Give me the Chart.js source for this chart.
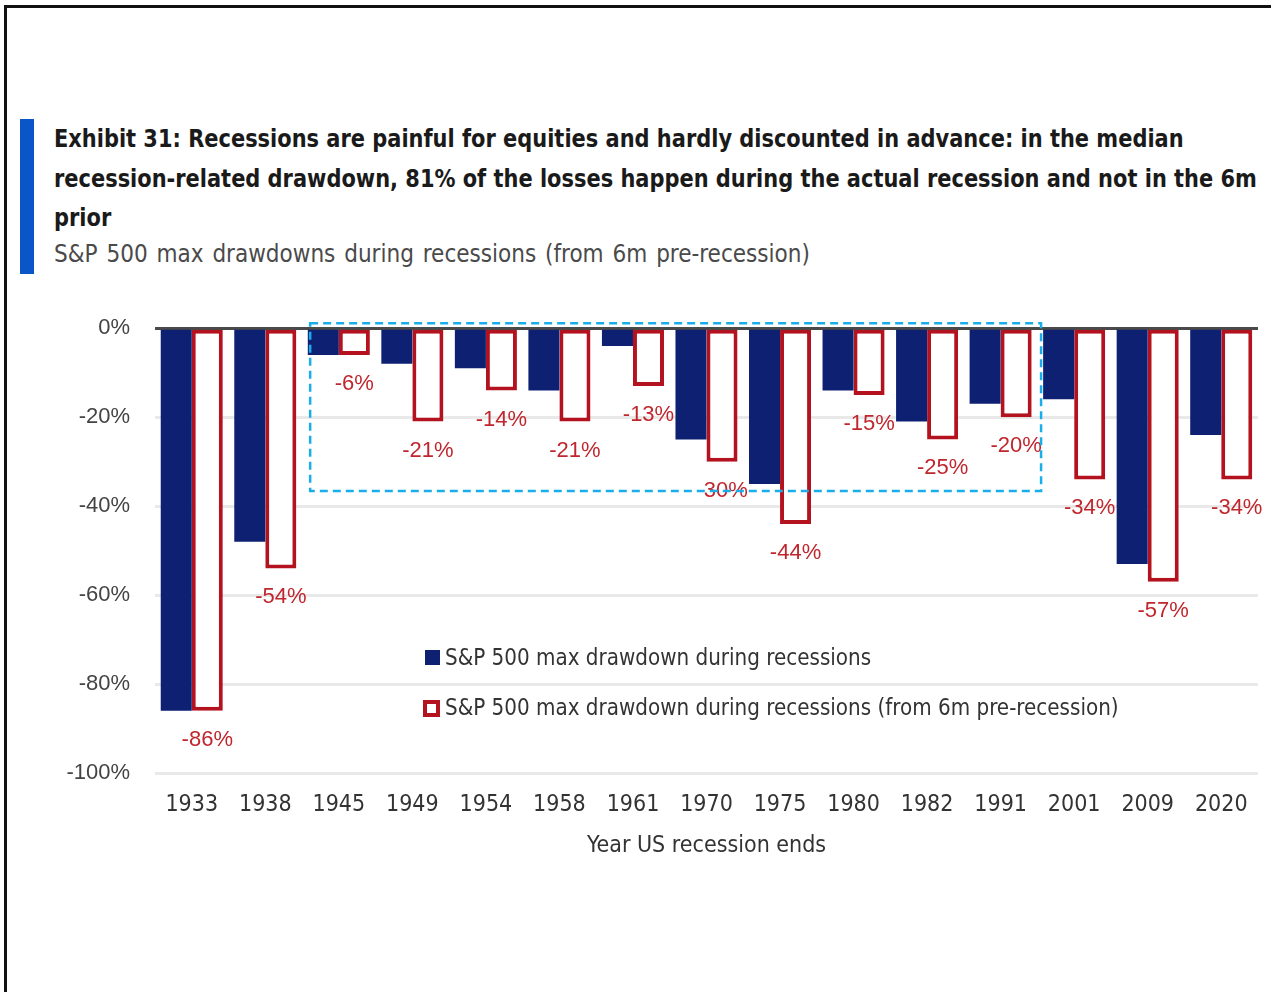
<!DOCTYPE html>
<html>
<head>
<meta charset="utf-8">
<script src="https://cdn.jsdelivr.net/npm/chart.js@4.4.1/dist/chart.umd.min.js"></script>
<style>
  html, body { margin:0; padding:0; background:#fff; }
  body { width:1271px; height:992px; overflow:hidden; position:relative; }
  #frame { position:absolute; left:4px; top:5px; width:1300px; height:1100px; border:3px solid #111; box-sizing:border-box; }
  #accent { position:absolute; left:20px; top:119px; width:14px; height:155px; background:#0a55c8; }
  #title { position:absolute; left:54px; top:120px; font-family:"DejaVu Sans Condensed","DejaVu Sans",sans-serif; font-weight:bold; font-size:24px; line-height:39.5px; color:#1a1a1a; white-space:nowrap; transform:scaleX(0.97); transform-origin:0 0; }
  #subtitle { position:absolute; left:54px; top:237px; font-family:"DejaVu Sans Condensed","DejaVu Sans",sans-serif; font-size:24px; line-height:34px; color:#4a4a4a; white-space:nowrap; word-spacing:2px; }
  #chartbox { position:absolute; left:0; top:290px; width:1271px; height:590px; }
  .leg { position:absolute; font-family:"DejaVu Sans Condensed","DejaVu Sans",sans-serif; font-size:22.2px; color:#333; white-space:nowrap; line-height:30px; }
  .mk { position:absolute; box-sizing:border-box; }
</style>
</head>
<body>
<div id="frame"></div>
<div id="accent"></div>
<div id="title">Exhibit 31: Recessions are painful for equities and hardly discounted in advance: in the median<br>recession-related drawdown, 81% of the losses happen during the actual recession and not in the 6m<br>prior</div>
<div id="subtitle">S&amp;P 500 max drawdowns during recessions (from 6m pre-recession)</div>
<div id="chartbox"><canvas id="c"></canvas></div>
<div class="mk" style="left:425px;top:650px;width:15px;height:15px;background:#0d2072;"></div>
<div class="leg" id="leg1" style="left:445px;top:642px;">S&amp;P 500 max drawdown during recessions</div>
<div class="mk" style="left:423px;top:700px;width:17px;height:17px;background:#fff;border:4px solid #b3121e;"></div>
<div class="leg" id="leg2" style="left:445px;top:692px;">S&amp;P 500 max drawdown during recessions (from 6m pre-recession)</div>
<script>
// ---- data ----
const years = ['1933','1938','1945','1949','1954','1958','1961','1970','1975','1980','1982','1991','2001','2009','2020'];
const drawdownDuring = [-86, -48, -6, -8, -9, -14, -4, -25, -35, -14, -21, -17, -16, -53, -24];
const drawdownFrom6m = [-86, -54, -6, -21, -14, -21, -13, -30, -44, -15, -25, -20, -34, -57, -34];
const yTicks = [-100, -80, -60, -40, -20, 0];
const seriesNames = ['S&P 500 max drawdown during recessions', 'S&P 500 max drawdown during recessions (from 6m pre-recession)'];
const highlightFrom = '1945';
const highlightTo = '1991';
const highlightBottom = -36.6;

const NAVY = '#0d2072';
const RED = '#b3121e';
const LABEL_RED = '#c0262d';
const COND = '"DejaVu Sans Condensed","DejaVu Sans",sans-serif';
const SANS = '"Liberation Sans",Arial,sans-serif';

const labelPlugin = {
  id: 'redLabels',
  afterDatasetsDraw(chart) {
    const ctx = chart.ctx;
    const meta = chart.getDatasetMeta(1);
    ctx.save();
    ctx.font = '22px ' + SANS;
    ctx.fillStyle = LABEL_RED;
    ctx.textAlign = 'center';
    ctx.textBaseline = 'middle';
    meta.data.forEach((el, i) => {
      ctx.fillText(drawdownFrom6m[i] + '%', el.x, el.y + 29);
    });
    ctx.restore();
  }
};

const boxPlugin = {
  id: 'highlightBox',
  afterDatasetsDraw(chart) {
    const xs = chart.scales.x, ys = chart.scales.y;
    const i0 = years.indexOf(highlightFrom), i1 = years.indexOf(highlightTo);
    const step = xs.getPixelForValue(1) - xs.getPixelForValue(0);
    const x0 = xs.getPixelForValue(i0) - step * 0.39;
    const x1 = xs.getPixelForValue(i1) + step * 0.55;
    const y0 = ys.getPixelForValue(0) - 5;
    const y1 = ys.getPixelForValue(highlightBottom);
    const ctx = chart.ctx;
    ctx.save();
    ctx.strokeStyle = '#19aeea';
    ctx.lineWidth = 2.5;
    ctx.setLineDash([8, 5]);
    ctx.strokeRect(x0, y0, x1 - x0, y1 - y0);
    ctx.restore();
  }
};

new Chart(document.getElementById('c'), {
  type: 'bar',
  data: {
    labels: years,
    datasets: [
      { label: seriesNames[0], data: drawdownDuring, backgroundColor: NAVY, borderWidth: 0,
        categoryPercentage: 0.844, barPercentage: 1.0 },
      { label: seriesNames[1], data: drawdownFrom6m, backgroundColor: '#ffffff', borderColor: RED,
        borderWidth: 4, borderSkipped: false, categoryPercentage: 0.844, barPercentage: 1.0 }
    ]
  },
  options: {
    responsive: true,
    maintainAspectRatio: false,
    animation: false,
    layout: { padding: { top: 0, right: 13, bottom: 15, left: 0 } },
    plugins: { legend: { display: false }, tooltip: { enabled: false } },
    scales: {
      x: {
        afterFit(scale) { scale.height = 92; },
        grid: { display: false, drawTicks: false },
        border: { display: false },
        ticks: { color: '#333', font: { family: COND, size: 23 }, padding: 18, maxRotation: 0, autoSkip: false },
        title: { display: true, text: 'Year US recession ends', color: '#333',
                 font: { family: COND, size: 23 }, padding: { top: 9, bottom: 5 } }
      },
      y: {
        min: -100, max: 0,
        afterBuildTicks(scale) { scale.ticks = yTicks.map(v => ({ value: v })); },
        afterFit(scale) { scale.width = 155; },
        grid: {
          drawTicks: false,
          lineWidth: 3,
          color: (c) => (c.tick && c.tick.value === 0) ? '#4a4a4a' : '#e9e9e9'
        },
        border: { display: false },
        ticks: { color: '#444', font: { family: SANS, size: 22 }, padding: 25,
                 callback: (v) => v + '%' }
      }
    }
  },
  plugins: [labelPlugin, boxPlugin]
});
</script>
</body>
</html>
